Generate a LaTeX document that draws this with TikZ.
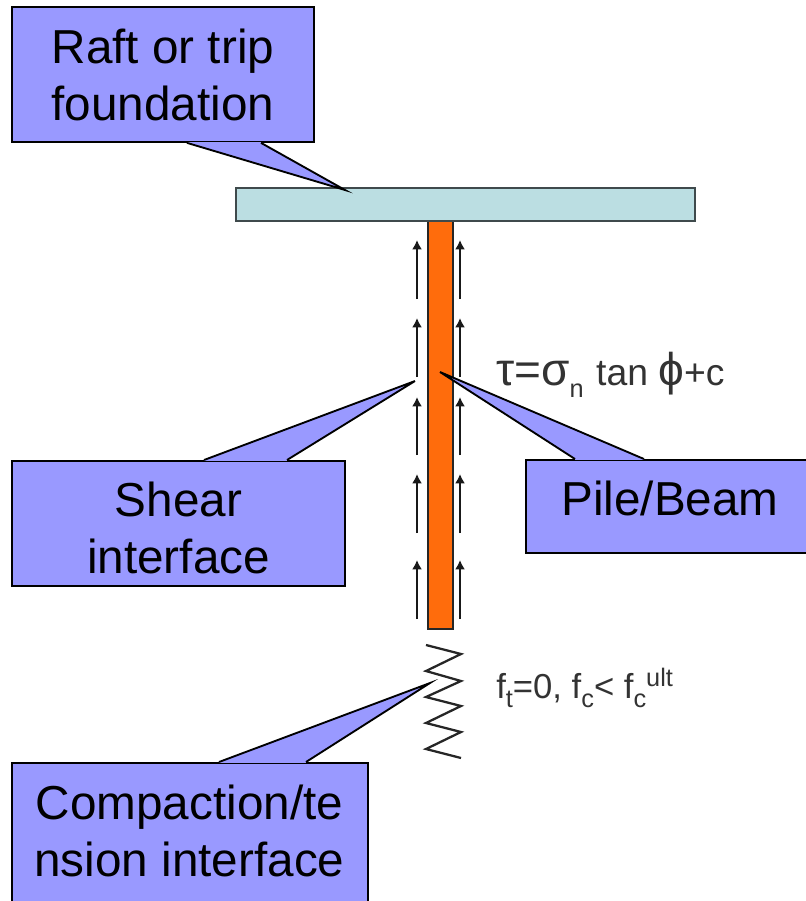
\documentclass[tikz,border=0pt]{standalone}
\usepackage{fontspec}
\setmainfont{Liberation Sans}
\usetikzlibrary{arrows.meta,positioning}
\definecolor{callblue}{HTML}{9999FF}
\definecolor{slabteal}{HTML}{BBDEE2}
\definecolor{pileorange}{HTML}{FF6C0C}
\definecolor{slabline}{HTML}{3F4A4C}
\newcommand{\symtxt}[1]{{\fontsize{34.5}{32}\selectfont #1}}
\newcommand{\lowtxt}[2]{\raisebox{#1}{\fontsize{19}{20}\selectfont #2}}
\tikzset{
  >=Latex,
  callbox/.style={draw=black,line width=1.4pt,fill=callblue,inner sep=0pt,anchor=north west},
  calltext/.style={align=center,inner sep=0pt,font=\fontsize{35.75}{42.75}\selectfont},
  tailfill/.style={fill=callblue},
  tailline/.style={draw=black,line width=1.4pt,line join=miter},
  slab/.style={draw=slabline,line width=1.6pt,fill=slabteal,inner sep=0pt,anchor=north west},
  pile/.style={draw=black!85,line width=1.2pt,fill=pileorange,inner sep=0pt,anchor=north west},
  shear/.style={-{Latex[length=7pt,width=7.5pt]},line width=1.8pt,draw=black!90},
  spring/.style={draw=black!85,line width=1.7pt,line join=miter},
  eqn/.style={anchor=base west,inner sep=0pt,text=black!80}
}
\begin{document}
\begin{tikzpicture}[x=0.75pt,y=-0.75pt]
  \useasboundingbox (1,1) rectangle (807,902);

  \node[pile,minimum width=19pt,minimum height=306pt] (beam) at (428,221) {};
  \node[slab,minimum width=344.25pt,minimum height=24.75pt] (raftslab) at (236,188) {};

  \foreach \x in {418,461} {
    \foreach \tl/\hd in {300/241,378/319,456/398,534/475,620/561} {
      \draw[shear] (\x,\tl) -- (\x,\hd);
    }
  }

  \draw[spring] (427,646) -- (462,655) -- (427,672) -- (462,682) -- (427,698) -- (462,707) -- (427,724) -- (462,733) -- (427,750) -- (462,759);

  \node[callbox,minimum width=226.5pt,minimum height=101.25pt] (raft) at (12,7) {};
  \node[callbox,minimum width=249.75pt,minimum height=93.75pt] (shearbox) at (12,461) {};
  \node[callbox,minimum width=216pt,minimum height=69.75pt] (beambox) at (526,460) {};
  \node[callbox,minimum width=267pt,minimum height=108pt] (compbox) at (12,763) {};

  \coordinate (raftTip) at (346,191);
  \coordinate (shearTip) at (416,382);
  \coordinate (beamTip) at (441,373);
  \coordinate (compTip) at (431,684);

  \foreach \nd/\side/\a/\b/\tip in {raft/south/188/262/raftTip,shearbox/north/205/288/shearTip,beambox/north/576/645/beamTip,compbox/north/220/307/compTip} {
    \fill[tailfill] (\a,0 |- \nd.\side) -- (\tip) -- (\b,0 |- \nd.\side) -- cycle;
    \draw[callblue,line width=2pt] (\a,0 |- \nd.\side) -- (\b,0 |- \nd.\side);
    \draw[tailline] (\a,0 |- \nd.\side) -- (\tip) -- (\b,0 |- \nd.\side);
  }

  \node[calltext] (rafttext) at (164,75.5) {Raft or trip\\foundation};
  \node[calltext] (sheartext) at (179.5,528.5) {Shear\\interface};
  \node[calltext] (beamtext) at (671,499.5) {Pile/Beam};
  \node[calltext] (comptext) at (190.5,832) {Compaction/te\\nsion interface};

  \node[eqn,font=\fontsize{28}{32}\selectfont] (eqshear) at (497,386) {\symtxt{τ=σ}\lowtxt{-9.5pt}{n}\hspace{1.5pt} tan \symtxt{ϕ}+c};
  \node[eqn,font=\fontsize{26}{30}\selectfont] (eqspring) at (497,699) {f\lowtxt{-7pt}{t}=0, f\lowtxt{-7pt}{c}< f\lowtxt{-7pt}{c}\lowtxt{9pt}{ult}};
\end{tikzpicture}
\end{document}
